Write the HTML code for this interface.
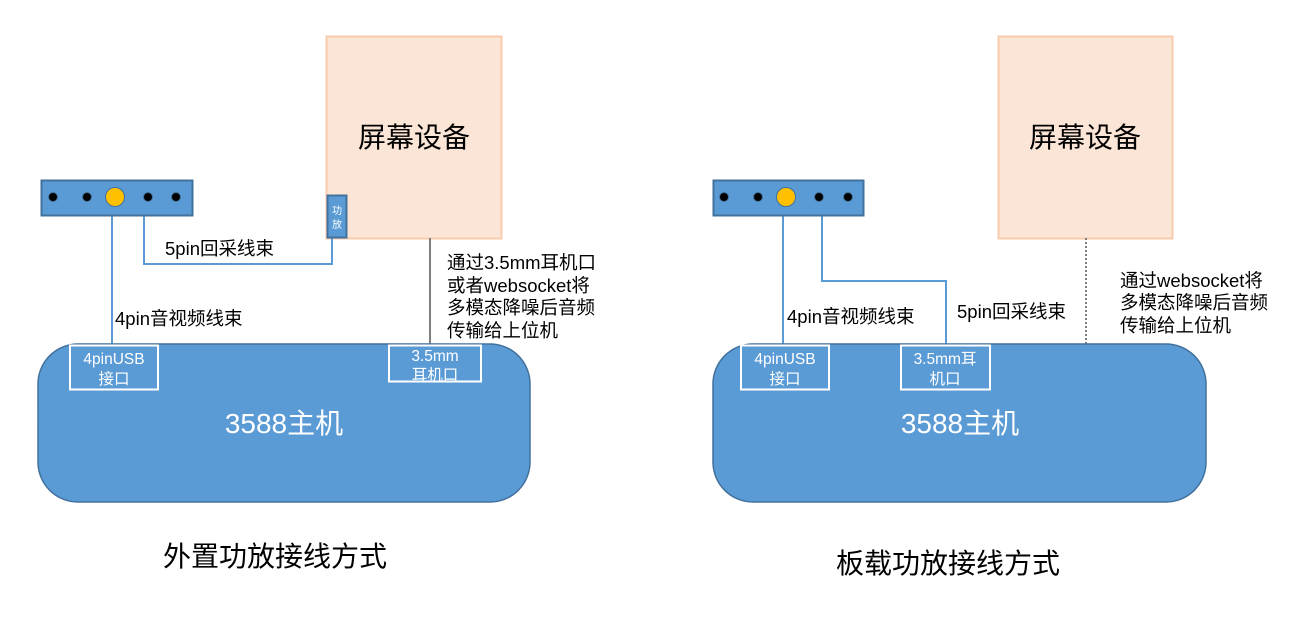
<!DOCTYPE html>
<html><head><meta charset="utf-8"><style>
body{margin:0;background:#fff;}
svg text{font-family:"Liberation Sans","Noto Sans CJK SC",sans-serif;}
</style></head><body>
<svg width="1316" height="631" viewBox="0 0 1316 631" xmlns="http://www.w3.org/2000/svg">
<!-- LEFT -->
<rect x="326.5" y="36.5" width="175" height="202" fill="#fbe5d6" stroke="#f8cbad" stroke-width="2"/>
<text x="414" y="147" font-size="28" text-anchor="middle" fill="#000">屏幕设备</text>
<line x1="112" y1="216" x2="112" y2="345" stroke="#5b9bd5" stroke-width="2"/>
<polyline points="144,216 144,264 332,264 332,237" fill="none" stroke="#5b9bd5" stroke-width="2"/>
<line x1="430" y1="238" x2="430" y2="345" stroke="#7f7f7f" stroke-width="2"/>
<rect x="41.5" y="180.5" width="151" height="35" fill="#5b9bd5" stroke="#41719c" stroke-width="2"/>
<g fill="#000" stroke="#41719c" stroke-width="1"><circle cx="53" cy="197" r="4.5"/><circle cx="87" cy="197" r="4.5"/><circle cx="148" cy="197" r="4.5"/><circle cx="176" cy="197" r="4.5"/></g>
<circle cx="115" cy="197" r="9.5" fill="#ffc000" stroke="#41719c" stroke-width="1"/>
<rect x="327.5" y="195.5" width="19" height="42" fill="#5b9bd5" stroke="#41719c" stroke-width="2"/>
<text x="337" y="214" font-size="10" fill="#fff" text-anchor="middle">功</text>
<text x="337" y="228" font-size="10" fill="#fff" text-anchor="middle">放</text>
<text x="165" y="255" font-size="18.5">5pin回采线束</text>
<text x="115" y="325" font-size="18.5">4pin音视频线束</text>
<g font-size="18.5"><text x="447" y="269">通过3.5mm耳机口</text><text x="447" y="292">或者websocket将</text><text x="447" y="314">多模态降噪后音频</text><text x="447" y="337">传输给上位机</text></g>
<rect x="38" y="344" width="492" height="158" rx="40" fill="#5b9bd5" stroke="#41719c" stroke-width="1.5"/>
<rect x="70" y="345.5" width="88" height="44" fill="none" stroke="#fff" stroke-width="2"/>
<text x="114" y="364" font-size="15.5" fill="#fff" text-anchor="middle">4pinUSB</text>
<text x="114" y="384" font-size="15.5" fill="#fff" text-anchor="middle">接口</text>
<rect x="389" y="345.5" width="92" height="36" fill="none" stroke="#fff" stroke-width="2"/>
<text x="435" y="361" font-size="15.5" fill="#fff" text-anchor="middle">3.5mm</text>
<text x="435" y="380" font-size="15.5" fill="#fff" text-anchor="middle">耳机口</text>
<text x="284" y="433" font-size="28" fill="#fff" text-anchor="middle">3588主机</text>
<text x="163" y="566" font-size="28">外置功放接线方式</text>
<!-- RIGHT -->
<rect x="998.5" y="36.5" width="174" height="202" fill="#fbe5d6" stroke="#f8cbad" stroke-width="2"/>
<text x="1085" y="147" font-size="28" text-anchor="middle" fill="#000">屏幕设备</text>
<line x1="783" y1="216" x2="783" y2="345" stroke="#5b9bd5" stroke-width="2"/>
<polyline points="822,216 822,281 946,281 946,345" fill="none" stroke="#5b9bd5" stroke-width="2"/>
<line x1="1086" y1="238" x2="1086" y2="345" stroke="#7f7f7f" stroke-width="2" stroke-dasharray="2,2"/>
<rect x="713.5" y="180.5" width="150" height="35" fill="#5b9bd5" stroke="#41719c" stroke-width="2"/>
<g fill="#000" stroke="#41719c" stroke-width="1"><circle cx="724" cy="197" r="4.5"/><circle cx="758" cy="197" r="4.5"/><circle cx="819" cy="197" r="4.5"/><circle cx="848" cy="197" r="4.5"/></g>
<circle cx="786" cy="197" r="9.5" fill="#ffc000" stroke="#41719c" stroke-width="1"/>
<text x="787" y="323" font-size="18.5">4pin音视频线束</text>
<text x="957" y="318" font-size="18.5">5pin回采线束</text>
<g font-size="18.5"><text x="1120" y="287">通过websocket将</text><text x="1120" y="309">多模态降噪后音频</text><text x="1120" y="332">传输给上位机</text></g>
<rect x="713" y="344" width="493" height="158" rx="40" fill="#5b9bd5" stroke="#41719c" stroke-width="1.5"/>
<rect x="741" y="345.5" width="88" height="44" fill="none" stroke="#fff" stroke-width="2"/>
<text x="785" y="364" font-size="15.5" fill="#fff" text-anchor="middle">4pinUSB</text>
<text x="785" y="384" font-size="15.5" fill="#fff" text-anchor="middle">接口</text>
<rect x="901" y="345.5" width="89" height="44" fill="none" stroke="#fff" stroke-width="2"/>
<text x="945" y="364" font-size="15.5" fill="#fff" text-anchor="middle">3.5mm耳</text>
<text x="945" y="384" font-size="15.5" fill="#fff" text-anchor="middle">机口</text>
<text x="960" y="433" font-size="28" fill="#fff" text-anchor="middle">3588主机</text>
<text x="836" y="573" font-size="28">板载功放接线方式</text>
</svg>
</body></html>
